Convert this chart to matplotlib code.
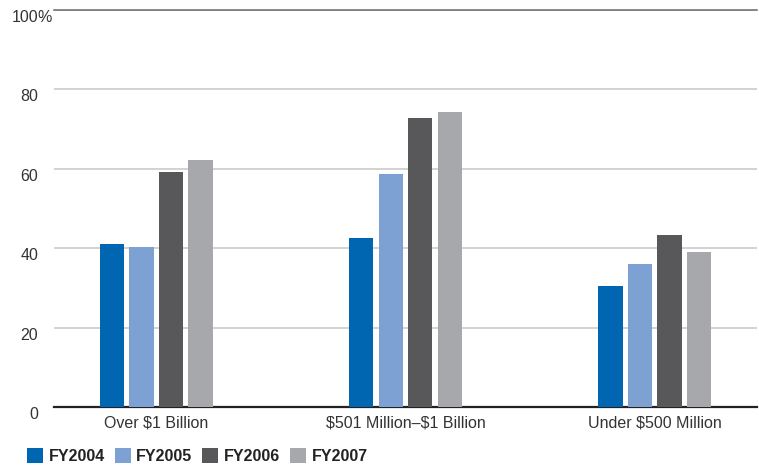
import matplotlib
matplotlib.use("Agg")
import matplotlib.pyplot as plt
import numpy as np

# values (percent)
categories = ["Over $1 Billion", "$501 Million\u2013$1 Billion", "Under $500 Million"]
series_names = ["FY2004", "FY2005", "FY2006", "FY2007"]
fy2004 = [41.0, 42.5, 30.4]
fy2005 = [40.2, 58.6, 36.0]
fy2006 = [59.1, 72.7, 43.3]
fy2007 = [62.1, 74.2, 39.0]
y_ticks = [0, 20, 40, 60, 80, 100]

colors = ["#0066b2", "#7ea1d3", "#58585a", "#a7a8ac"]
plt.rcParams["font.family"] = ["Liberation Sans", "DejaVu Sans"]
plt.rcParams["text.parse_math"] = False

fig = plt.figure(figsize=(7.59, 4.68), dpi=100)
ax = fig.add_axes([54 / 759, 61 / 468, 703 / 759, 397 / 468])

x = np.arange(len(categories))
width = 0.097
step = 0.1185
for i, (name, vals) in enumerate(zip(series_names, [fy2004, fy2005, fy2006, fy2007])):
    ax.bar(x + (i - 1.5) * step, vals, width, color=colors[i], label=name, zorder=3)

ax.set_xlim(-0.41, 2.41)
ax.set_ylim(0, 100)

# gridlines
ax.set_yticks(y_ticks)
ax.yaxis.grid(True, color="#cfcfcf", lw=1.3, zorder=0)
ax.set_axisbelow(True)

for s in ["left", "right"]:
    ax.spines[s].set_visible(False)
ax.spines["bottom"].set_color("#222222")
ax.spines["bottom"].set_linewidth(1.6)
ax.spines["top"].set_color("#6a6a6a")
ax.spines["top"].set_linewidth(1.1)

fs = 11.5
ax.set_yticklabels([str(t) for t in y_ticks], fontsize=fs, color="#333333")
ax.tick_params(axis="y", length=0, pad=11.5)
for lab in ax.get_yticklabels():
    lab.set_va("top")
ax.annotate("%", xy=(0, 100), xycoords=("axes fraction", "data"),
            xytext=(-11.8, 0), textcoords="offset points",
            ha="left", va="top", fontsize=fs, color="#333333")

ax.set_xticks(x)
ax.set_xticklabels(categories, fontsize=fs, color="#333333")
ax.tick_params(axis="x", length=0, pad=6)

leg = fig.legend(loc="lower left", bbox_to_anchor=(19 / 759, -4 / 468), ncol=4,
                 frameon=False, handlelength=1.0, handleheight=1.0,
                 handletextpad=0.35, columnspacing=0.62, borderpad=0,
                 prop={"size": fs, "weight": "bold"})
for t in leg.get_texts():
    t.set_color("#222222")

fig.savefig("out.png", dpi=100)
